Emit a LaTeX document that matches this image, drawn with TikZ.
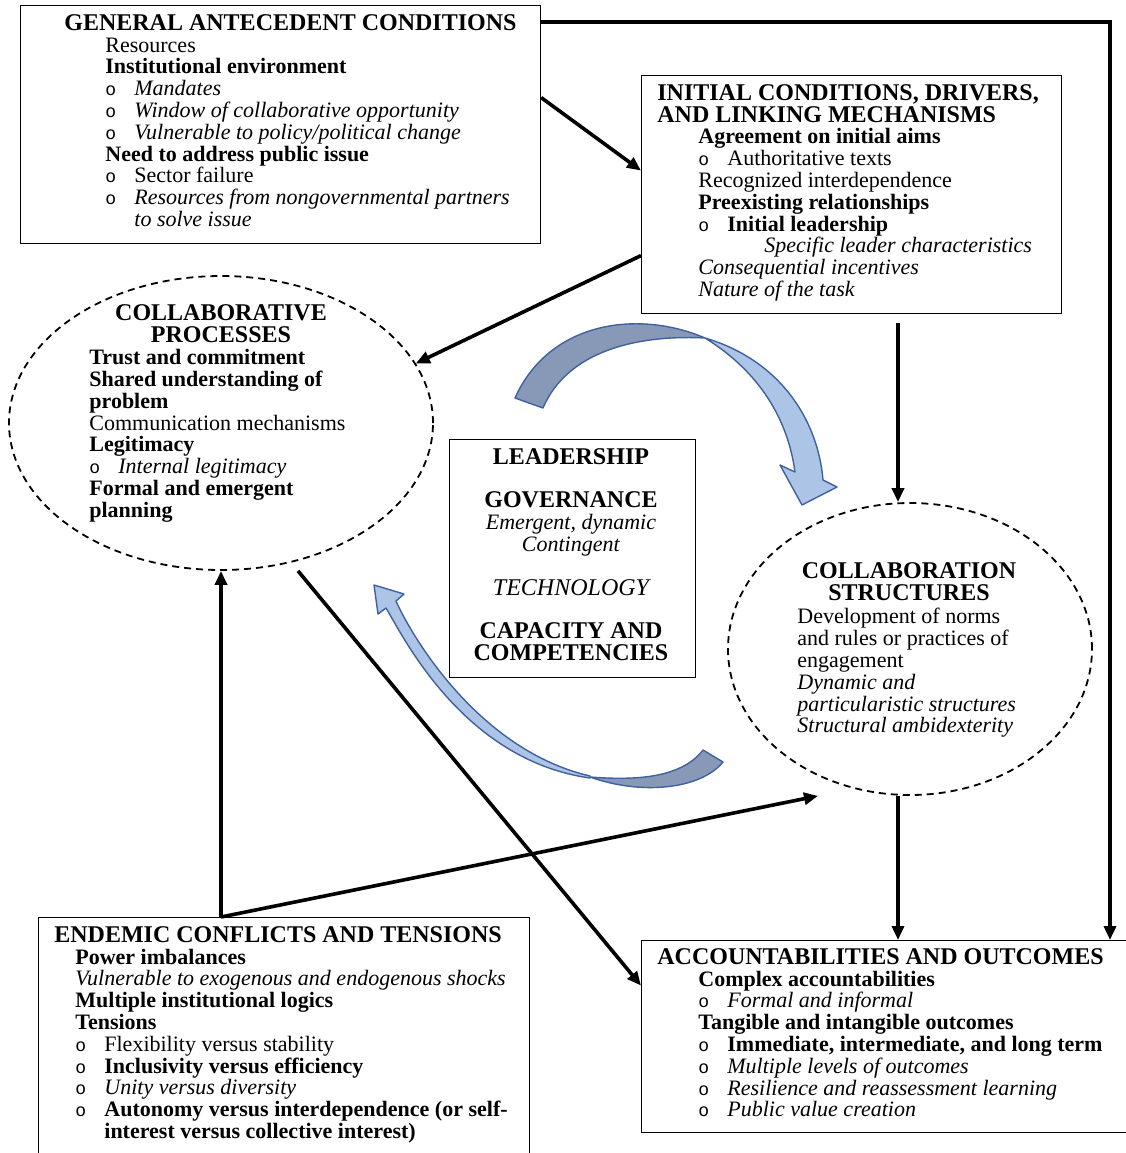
\documentclass[tikz,border=0pt]{standalone}
\usepackage{fontspec}
\setmainfont{Liberation Serif}
\newfontfamily\bulfont{Liberation Mono}
\usepackage{xcolor}
\usepackage{tikz}
\usetikzlibrary{arrows.meta,shapes.geometric}

\definecolor{bandDark}{HTML}{8899B8}
\definecolor{bandLight}{HTML}{ACC4E5}
\definecolor{bandEdge}{HTML}{41609F}

\newcommand{\bul}{\makebox[14.5pt][l]{\bulfont\fontsize{9}{9}\selectfont o}}
\newcommand{\hd}[1]{{\fontsize{12}{10.9}\selectfont\bfseries #1}}
\newcommand{\ind}[1]{\hspace*{#1}}

\begin{document}
\begin{tikzpicture}[x=0.5pt, y=-0.5pt,
    box/.style={draw, line width=0.6pt, inner sep=0pt, anchor=north west},
    oval/.style={draw, ellipse, dash pattern=on 3.5pt off 2.5pt, line width=0.9pt, inner sep=0pt},
    txt/.style={inner sep=0pt, anchor=north west, align=left, font=\fontsize{11}{10.9}\selectfont},
    ctxt/.style={txt, anchor=north, align=center},
    arr/.style={line width=1.8pt, -{Triangle[length=7pt,width=6pt]}},
    band/.style={draw=bandEdge, line width=0.7pt, line join=round}
  ]
    \useasboundingbox (0,0) rectangle (1126,1153);
    \clip (0,0) rectangle (1126,1153);

    \node[box, minimum width=260pt, minimum height=119pt] (gac) at (20,5) {};
    \node[box, minimum width=210pt, minimum height=119pt] (icd) at (641,75) {};
    \node[box, minimum width=123pt, minimum height=119pt] (lgt) at (449,439) {};
    \node[box, minimum width=245.5pt, minimum height=130pt] (ect) at (38,917) {};
    \node[box, minimum width=246pt, minimum height=96pt] (ao) at (641,940) {};
    \node[oval, minimum width=212pt, minimum height=147pt] (cp) at (221,423) {};
    \node[oval, minimum width=182pt, minimum height=146pt] (cs) at (910,649) {};

    \node[txt] (gactxt) at (64,14) {\hd{GENERAL ANTECEDENT CONDITIONS}\\
      \ind{20.5pt}Resources\\
      \ind{20.5pt}\textbf{Institutional environment}\\
      \ind{20.5pt}\bul\textit{Mandates}\\
      \ind{20.5pt}\bul\textit{Window of collaborative opportunity}\\
      \ind{20.5pt}\bul\textit{Vulnerable to policy/political change}\\
      \ind{20.5pt}\textbf{Need to address public issue}\\
      \ind{20.5pt}\bul Sector failure\\
      \ind{20.5pt}\bul\textit{Resources from nongovernmental partners}\\
      \ind{35pt}\textit{to solve issue}};

    \node[txt] (icdtxt) at (657,84) {\hd{INITIAL CONDITIONS, DRIVERS,}\\
      \hd{AND LINKING MECHANISMS}\\
      \ind{20.5pt}\textbf{Agreement on initial aims}\\
      \ind{20.5pt}\bul Authoritative texts\\
      \ind{20.5pt}Recognized interdependence\\
      \ind{20.5pt}\textbf{Preexisting relationships}\\
      \ind{20.5pt}\bul\textbf{Initial leadership}\\
      \ind{53.5pt}\textit{Specific leader characteristics}\\
      \ind{20.5pt}\textit{Consequential incentives}\\
      \ind{20.5pt}\textit{Nature of the task}};

    \node[ctxt] (cphd) at (221,304) {\hd{COLLABORATIVE}\\ \hd{PROCESSES}};
    \node[txt] (cptxt) at (89,349) {\textbf{Trust and commitment}\\
      \textbf{Shared understanding of}\\
      \textbf{problem}\\
      Communication mechanisms\\
      \textbf{Legitimacy}\\
      \bul\textit{Internal legitimacy}\\
      \textbf{Formal and emergent}\\
      \textbf{planning}};

    \node[ctxt] (lgttxt) at (571,448) {\hd{LEADERSHIP}\\[10.9pt]
      \hd{GOVERNANCE}\\
      \textit{Emergent, dynamic}\\
      \textit{Contingent}\\[10.9pt]
      {\fontsize{12}{10.9}\selectfont\itshape TECHNOLOGY}\\[10.9pt]
      \hd{CAPACITY AND}\\
      \hd{COMPETENCIES}};

    \node[ctxt] (cshd) at (909,562) {\hd{COLLABORATION}\\ \hd{STRUCTURES}};
    \node[txt] (cstxt) at (797,608) {Development of norms\\
      and rules or practices of\\
      engagement\\
      \textit{Dynamic and}\\
      \textit{particularistic structures}\\
      \textit{Structural ambidexterity}};

    \node[txt] (ecttxt) at (54,926) {\hd{ENDEMIC CONFLICTS AND TENSIONS}\\
      \ind{10.5pt}\textbf{Power imbalances}\\
      \ind{10.5pt}\textit{Vulnerable to exogenous and endogenous shocks}\\
      \ind{10.5pt}\textbf{Multiple institutional logics}\\
      \ind{10.5pt}\textbf{Tensions}\\
      \ind{10.5pt}\bul Flexibility versus stability\\
      \ind{10.5pt}\bul\textbf{Inclusivity versus efficiency}\\
      \ind{10.5pt}\bul\textit{Unity versus diversity}\\
      \ind{10.5pt}\bul\textbf{Autonomy versus interdependence (or self-}\\
      \ind{25pt}\textbf{interest versus collective interest)}};

    \node[txt] (aotxt) at (657,948) {\hd{ACCOUNTABILITIES AND OUTCOMES}\\
      \ind{20.5pt}\textbf{Complex accountabilities}\\
      \ind{20.5pt}\bul\textit{Formal and informal}\\
      \ind{20.5pt}\textbf{Tangible and intangible outcomes}\\
      \ind{20.5pt}\bul\textbf{Immediate, intermediate, and long term}\\
      \ind{20.5pt}\bul\textit{Multiple levels of outcomes}\\
      \ind{20.5pt}\bul\textit{Resilience and reassessment learning}\\
      \ind{20.5pt}\bul\textit{Public value creation}};

    % twisted curved arrows round the centre box
    \draw[band, fill=bandDark] (515,398) .. controls (550,320) and (640,310) .. (705,338)
      .. controls (650,335) and (570,345) .. (543,408) -- cycle;
    \draw[band, fill=bandLight] (705,338) .. controls (780,360) and (818,420) .. (823,480)
      -- (837,487) -- (802,505) -- (780,465) -- (795,472)
      .. controls (788,420) and (760,372) .. (705,338) -- cycle;
    \draw[band, fill=bandDark] (590,777) .. controls (640,795) and (700,790) .. (723,762)
      -- (703,750) .. controls (680,780) and (630,780) .. (590,777) -- cycle;
    \draw[band, fill=bandLight] (590,776) .. controls (478,750) and (411,635) .. (396,601)
      -- (404,594) -- (374,585) -- (378,614) -- (386,608)
      .. controls (402,634) and (462,760) .. (590,778) -- cycle;

    \draw[arr] (gac.north east |- 0,22) -| (ao.north -| 1110,0);
    \draw[arr] ([yshift=13.5pt]gac.east) -- ([yshift=12pt]icd.west);
    \draw[arr] ([yshift=-30.5pt]icd.west) -- (cp.17);
    \draw[arr, shorten <=4.5pt] (icd.south -| 898,0) -- (cs.north -| 898,0);
    \draw[arr] (cs.south -| 898,0) -- (ao.north -| 898,0);
    \draw[arr] ([xshift=38.5pt]cp.south) -- ([yshift=25.5pt]ao.west);
    \draw[arr] (ect.north -| cp.south) -- (cp.south);
    \draw[arr] (ect.north -| cp.south) -- ([xshift=-46pt]cs.south);
\end{tikzpicture}
\end{document}
